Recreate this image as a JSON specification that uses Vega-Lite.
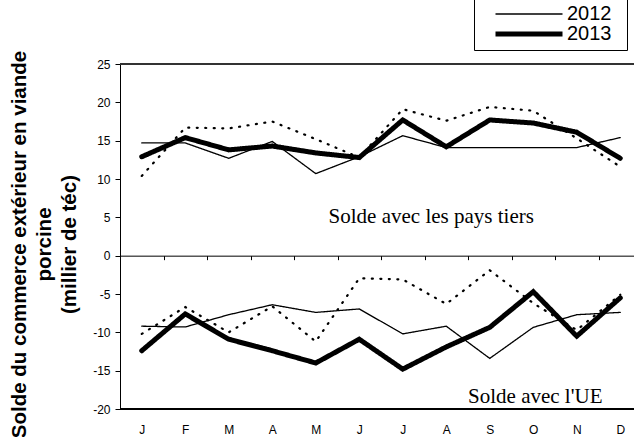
{
  "$schema": "https://vega.github.io/schema/vega-lite/v6.json",
  "width": 514,
  "height": 345,
  "autosize": {"type": "none"},
  "padding": {"left": 120, "top": 64, "right": 0, "bottom": 28},
  "background": "white",
  "config": {"view": {"stroke": null}, "font": "Liberation Sans"},
  "data": {
    "values": [
      {"m": "janvier", "year": 2011, "zone": "tiers", "v": 10.4},
      {"m": "février", "year": 2011, "zone": "tiers", "v": 16.7},
      {"m": "mars", "year": 2011, "zone": "tiers", "v": 16.6},
      {"m": "avril", "year": 2011, "zone": "tiers", "v": 17.5},
      {"m": "mai", "year": 2011, "zone": "tiers", "v": 15.2},
      {"m": "juin", "year": 2011, "zone": "tiers", "v": 12.8},
      {"m": "juillet", "year": 2011, "zone": "tiers", "v": 19.1},
      {"m": "août", "year": 2011, "zone": "tiers", "v": 17.6},
      {"m": "septembre", "year": 2011, "zone": "tiers", "v": 19.4},
      {"m": "octobre", "year": 2011, "zone": "tiers", "v": 18.9},
      {"m": "novembre", "year": 2011, "zone": "tiers", "v": 15.3},
      {"m": "décembre", "year": 2011, "zone": "tiers", "v": 11.6},
      {"m": "janvier", "year": 2012, "zone": "tiers", "v": 14.7},
      {"m": "février", "year": 2012, "zone": "tiers", "v": 14.7},
      {"m": "mars", "year": 2012, "zone": "tiers", "v": 12.7},
      {"m": "avril", "year": 2012, "zone": "tiers", "v": 14.9},
      {"m": "mai", "year": 2012, "zone": "tiers", "v": 10.7},
      {"m": "juin", "year": 2012, "zone": "tiers", "v": 12.9},
      {"m": "juillet", "year": 2012, "zone": "tiers", "v": 15.65},
      {"m": "août", "year": 2012, "zone": "tiers", "v": 14.1},
      {"m": "septembre", "year": 2012, "zone": "tiers", "v": 14.1},
      {"m": "octobre", "year": 2012, "zone": "tiers", "v": 14.1},
      {"m": "novembre", "year": 2012, "zone": "tiers", "v": 14.1},
      {"m": "décembre", "year": 2012, "zone": "tiers", "v": 15.4},
      {"m": "janvier", "year": 2013, "zone": "tiers", "v": 12.9},
      {"m": "février", "year": 2013, "zone": "tiers", "v": 15.4},
      {"m": "mars", "year": 2013, "zone": "tiers", "v": 13.8},
      {"m": "avril", "year": 2013, "zone": "tiers", "v": 14.3},
      {"m": "mai", "year": 2013, "zone": "tiers", "v": 13.4},
      {"m": "juin", "year": 2013, "zone": "tiers", "v": 12.8},
      {"m": "juillet", "year": 2013, "zone": "tiers", "v": 17.7},
      {"m": "août", "year": 2013, "zone": "tiers", "v": 14.2},
      {"m": "septembre", "year": 2013, "zone": "tiers", "v": 17.7},
      {"m": "octobre", "year": 2013, "zone": "tiers", "v": 17.3},
      {"m": "novembre", "year": 2013, "zone": "tiers", "v": 16.1},
      {"m": "décembre", "year": 2013, "zone": "tiers", "v": 12.7},
      {"m": "janvier", "year": 2011, "zone": "UE", "v": -10.2},
      {"m": "février", "year": 2011, "zone": "UE", "v": -6.7},
      {"m": "mars", "year": 2011, "zone": "UE", "v": -10.0},
      {"m": "avril", "year": 2011, "zone": "UE", "v": -6.6},
      {"m": "mai", "year": 2011, "zone": "UE", "v": -11.2},
      {"m": "juin", "year": 2011, "zone": "UE", "v": -2.95},
      {"m": "juillet", "year": 2011, "zone": "UE", "v": -3.1},
      {"m": "août", "year": 2011, "zone": "UE", "v": -6.3},
      {"m": "septembre", "year": 2011, "zone": "UE", "v": -1.9},
      {"m": "octobre", "year": 2011, "zone": "UE", "v": -6.2},
      {"m": "novembre", "year": 2011, "zone": "UE", "v": -9.7},
      {"m": "décembre", "year": 2011, "zone": "UE", "v": -5.1},
      {"m": "janvier", "year": 2012, "zone": "UE", "v": -9.2},
      {"m": "février", "year": 2012, "zone": "UE", "v": -9.3},
      {"m": "mars", "year": 2012, "zone": "UE", "v": -7.7},
      {"m": "avril", "year": 2012, "zone": "UE", "v": -6.4},
      {"m": "mai", "year": 2012, "zone": "UE", "v": -7.4},
      {"m": "juin", "year": 2012, "zone": "UE", "v": -6.95},
      {"m": "juillet", "year": 2012, "zone": "UE", "v": -10.2},
      {"m": "août", "year": 2012, "zone": "UE", "v": -9.2},
      {"m": "septembre", "year": 2012, "zone": "UE", "v": -13.4},
      {"m": "octobre", "year": 2012, "zone": "UE", "v": -9.35},
      {"m": "novembre", "year": 2012, "zone": "UE", "v": -7.7},
      {"m": "décembre", "year": 2012, "zone": "UE", "v": -7.4},
      {"m": "janvier", "year": 2013, "zone": "UE", "v": -12.4},
      {"m": "février", "year": 2013, "zone": "UE", "v": -7.6},
      {"m": "mars", "year": 2013, "zone": "UE", "v": -10.9},
      {"m": "avril", "year": 2013, "zone": "UE", "v": -12.4},
      {"m": "mai", "year": 2013, "zone": "UE", "v": -14.0},
      {"m": "juin", "year": 2013, "zone": "UE", "v": -10.9},
      {"m": "juillet", "year": 2013, "zone": "UE", "v": -14.8},
      {"m": "août", "year": 2013, "zone": "UE", "v": -11.9},
      {"m": "septembre", "year": 2013, "zone": "UE", "v": -9.35},
      {"m": "octobre", "year": 2013, "zone": "UE", "v": -4.7},
      {"m": "novembre", "year": 2013, "zone": "UE", "v": -10.5},
      {"m": "décembre", "year": 2013, "zone": "UE", "v": -5.5}
    ]
  },
  "layer": [
    {
      "mark": {"type": "line", "color": "black", "strokeCap": "round"},
      "encoding": {
        "x": {
          "field": "m",
          "type": "ordinal",
          "sort": ["janvier", "février", "mars", "avril", "mai", "juin", "juillet", "août", "septembre", "octobre", "novembre", "décembre"],
          "scale": {"type": "band", "paddingInner": 0, "paddingOuter": 0, "range": [0, 522]},
          "axis": {
            "title": null,
            "orient": "bottom",
            "offset": -153.33,
            "tickBand": "extent",
            "tickSize": 4,
            "tickColor": "#000",
            "domainColor": "#000",
            "labelPadding": 165,
            "labelFontSize": 12,
            "labelColor": "#000",
            "labelAngle": 0,
            "labelExpr": "upper(slice(datum.label,0,1))",
            "grid": false
          }
        },
        "y": {
          "field": "v",
          "type": "quantitative",
          "scale": {"domain": [-20, 25], "nice": false, "zero": false},
          "axis": {
            "title": ["Solde du commerce extérieur en viande", "porcine", "(millier de téc)"],
            "values": [-20, -15, -10, -5, 0, 5, 10, 15, 20, 25],
            "labelOverlap": false,
            "grid": false,
            "domainColor": "#000",
            "tickColor": "#000",
            "tickSize": 5,
            "labelPadding": 5,
            "labelFontSize": 12,
            "labelColor": "#000",
            "labelExpr": "replace(datum.label,'−','-')",
            "titleX": -95,
            "titleY": 180,
            "titleAngle": -90,
            "titleBaseline": "alphabetic",
            "titleAlign": "center",
            "titleFontSize": 20.5,
            "titleFontWeight": "bold",
            "titleLineHeight": 25,
            "titleColor": "#000",
            "titleFont": "Liberation Sans"
          }
        },
        "detail": {"field": "zone"},
        "strokeDash": {
          "field": "year",
          "type": "nominal",
          "scale": {"domain": [2011, 2012, 2013], "range": [[1, 7.5], [1, 0], [1, 0]]},
          "legend": null
        },
        "strokeWidth": {
          "field": "year",
          "type": "nominal",
          "scale": {"type": "point", "domain": [2012, 2011, "a", "b", 2013], "range": [1.3, 5], "padding": 0},
          "legend": {
            "values": [2012, 2013],
            "title": "\u00a0",
            "titleOrient": "right",
            "titleFontSize": 1,
            "titlePadding": 10,
            "orient": "none",
            "legendX": 354,
            "legendY": -66,
            "direction": "vertical",
            "symbolType": "stroke",
            "symbolSize": 4489,
            "symbolStrokeColor": "#000",
            "clipHeight": 20,
            "rowPadding": 0,
            "labelFontSize": 20,
            "labelFont": "Liberation Sans",
            "labelColor": "#000",
            "labelOffset": 2,
            "padding": 6,
            "symbolOffset": 13,
            "strokeColor": "#000",
            "fillColor": "white"
          }
        }
      }
    },
    {
      "mark": {"type": "rule", "color": "#333", "strokeWidth": 1},
      "encoding": {
        "y": {
          "datum": 25,
          "type": "quantitative",
          "axis": {
            "title": ["Solde du commerce extérieur en viande", "porcine", "(millier de téc)"],
            "values": [-20, -15, -10, -5, 0, 5, 10, 15, 20, 25],
            "labelOverlap": false,
            "grid": false,
            "domainColor": "#000",
            "tickColor": "#000",
            "tickSize": 5,
            "labelPadding": 5,
            "labelFontSize": 12,
            "labelColor": "#000",
            "labelExpr": "replace(datum.label,'−','-')",
            "titleX": -95,
            "titleY": 180,
            "titleAngle": -90,
            "titleBaseline": "alphabetic",
            "titleAlign": "center",
            "titleFontSize": 20.5,
            "titleFontWeight": "bold",
            "titleLineHeight": 25,
            "titleColor": "#000",
            "titleFont": "Liberation Sans"
          }
        }
      }
    },
    {
      "mark": {"type": "rule", "color": "#000", "strokeWidth": 1},
      "encoding": {
        "y": {
          "datum": -20,
          "type": "quantitative",
          "axis": {
            "title": ["Solde du commerce extérieur en viande", "porcine", "(millier de téc)"],
            "values": [-20, -15, -10, -5, 0, 5, 10, 15, 20, 25],
            "labelOverlap": false,
            "grid": false,
            "domainColor": "#000",
            "tickColor": "#000",
            "tickSize": 5,
            "labelPadding": 5,
            "labelFontSize": 12,
            "labelColor": "#000",
            "labelExpr": "replace(datum.label,'−','-')",
            "titleX": -95,
            "titleY": 180,
            "titleAngle": -90,
            "titleBaseline": "alphabetic",
            "titleAlign": "center",
            "titleFontSize": 20.5,
            "titleFontWeight": "bold",
            "titleLineHeight": 25,
            "titleColor": "#000",
            "titleFont": "Liberation Sans"
          }
        }
      }
    },
    {
      "data": {"values": [{"t": "Solde avec les pays tiers"}]},
      "mark": {"type": "text", "font": "Liberation Serif", "fontSize": 21, "baseline": "middle", "align": "center", "dx": -15, "color": "#000"},
      "encoding": {
        "x": {"datum": "août", "type": "ordinal"},
        "y": {
          "datum": 5,
          "type": "quantitative",
          "axis": {
            "title": ["Solde du commerce extérieur en viande", "porcine", "(millier de téc)"],
            "values": [-20, -15, -10, -5, 0, 5, 10, 15, 20, 25],
            "labelOverlap": false,
            "grid": false,
            "domainColor": "#000",
            "tickColor": "#000",
            "tickSize": 5,
            "labelPadding": 5,
            "labelFontSize": 12,
            "labelColor": "#000",
            "labelExpr": "replace(datum.label,'−','-')",
            "titleX": -95,
            "titleY": 180,
            "titleAngle": -90,
            "titleBaseline": "alphabetic",
            "titleAlign": "center",
            "titleFontSize": 20.5,
            "titleFontWeight": "bold",
            "titleLineHeight": 25,
            "titleColor": "#000",
            "titleFont": "Liberation Sans"
          }
        },
        "text": {"field": "t"}
      }
    },
    {
      "data": {"values": [{"t": "Solde avec l'UE"}]},
      "mark": {"type": "text", "font": "Liberation Serif", "fontSize": 21, "baseline": "middle", "align": "center", "dx": 2, "color": "#000"},
      "encoding": {
        "x": {"datum": "octobre", "type": "ordinal"},
        "y": {
          "datum": -18.4,
          "type": "quantitative",
          "axis": {
            "title": ["Solde du commerce extérieur en viande", "porcine", "(millier de téc)"],
            "values": [-20, -15, -10, -5, 0, 5, 10, 15, 20, 25],
            "labelOverlap": false,
            "grid": false,
            "domainColor": "#000",
            "tickColor": "#000",
            "tickSize": 5,
            "labelPadding": 5,
            "labelFontSize": 12,
            "labelColor": "#000",
            "labelExpr": "replace(datum.label,'−','-')",
            "titleX": -95,
            "titleY": 180,
            "titleAngle": -90,
            "titleBaseline": "alphabetic",
            "titleAlign": "center",
            "titleFontSize": 20.5,
            "titleFontWeight": "bold",
            "titleLineHeight": 25,
            "titleColor": "#000",
            "titleFont": "Liberation Sans"
          }
        },
        "text": {"field": "t"}
      }
    }
  ]
}
